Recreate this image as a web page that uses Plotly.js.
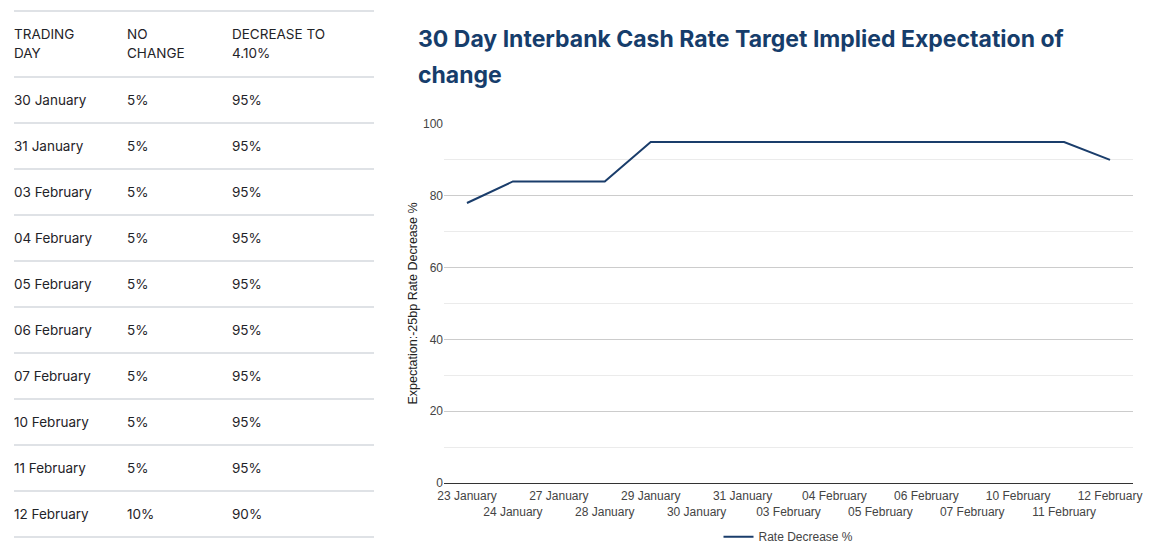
<!DOCTYPE html>
<html>
<head>
<meta charset="utf-8">
<script src="https://cdn.plot.ly/plotly-3.0.1.min.js"></script>
<style>
  html, body { margin: 0; padding: 0; background: #fff; width: 1157px; height: 548px; overflow: hidden; }
  #tbl { position: absolute; left: 14px; top: 10px; width: 360px; border-collapse: collapse;
         font-family: Inter, "Open Sans", sans-serif; font-size: 13.5px; color: #1f2328; }
  #tbl th, #tbl td { text-align: left; font-weight: 400; padding: 0; vertical-align: middle; border-top: 2px solid #dfe2e6; }
  #tbl tr:last-child td { border-bottom: 2px solid #dfe2e6; }
  #tbl th { height: 64px; line-height: 19px; }
  #tbl td { height: 44px; }
  #title { position: absolute; left: 418px; top: 21px; width: 700px; font-family: Inter, "Open Sans", sans-serif;
           font-weight: 700; font-size: 23px; line-height: 36px; color: #163d6b; z-index: 10; }
  #chart { position: absolute; left: 390px; top: 0; width: 767px; height: 548px; z-index: 1; }
</style>
</head>
<body>
<table id="tbl">
  <thead><tr><th style="width:113px">TRADING<br>DAY</th><th style="width:105px">NO<br>CHANGE</th><th>DECREASE TO<br>4.10%</th></tr></thead>
  <tbody id="tbody"></tbody>
</table>
<div id="chart"></div>
<div id="title">30 Day Interbank Cash Rate Target Implied Expectation of<br>change</div>
<script>
// Table data
const tableDays = ["30 January", "31 January", "03 February", "04 February", "05 February", "06 February", "07 February", "10 February", "11 February", "12 February"];
const tableNoChange = ["5%", "5%", "5%", "5%", "5%", "5%", "5%", "5%", "5%", "10%"];
const tableDecrease = ["95%", "95%", "95%", "95%", "95%", "95%", "95%", "95%", "95%", "90%"];

// Chart data
const chartDates = ["23 January", "24 January", "27 January", "28 January", "29 January", "30 January", "31 January",
  "03 February", "04 February", "05 February", "06 February", "07 February", "10 February", "11 February", "12 February"];
const rateDecrease = [78, 84, 84, 84, 95, 95, 95, 95, 95, 95, 95, 95, 95, 95, 90];
const yTicks = [0, 20, 40, 60, 80, 100];

const tb = document.getElementById('tbody');
tableDays.forEach((d, i) => {
  const tr = document.createElement('tr');
  [d, tableNoChange[i], tableDecrease[i]].forEach(v => {
    const td = document.createElement('td'); td.textContent = v; tr.appendChild(td);
  });
  tb.appendChild(tr);
});

const idx = chartDates.map((_, i) => i);
const tickText = chartDates.map((d, i) => (i % 2 === 1 ? '<br>' + d : d));

const trace = {
  x: idx, y: rateDecrease, type: 'scatter', mode: 'lines', name: 'Rate Decrease %',
  line: { color: '#1a3d6b', width: 2 }
};

const layout = {
  width: 767, height: 548,
  margin: { l: 54, r: 24, t: 124, b: 65, autoexpand: false },
  paper_bgcolor: 'rgba(0,0,0,0)', plot_bgcolor: '#fff',
  font: { family: 'Arial, Liberation Sans, sans-serif', size: 12, color: '#444' },
  showlegend: true,
  legend: { orientation: 'h', x: 0.5, xanchor: 'center', yref: 'container', y: 0.047, yanchor: 'top', font: { size: 12, color: '#444' } },
  xaxis: {
    range: [-0.5, 14.5], tickmode: 'array', tickvals: idx, ticktext: tickText, tickangle: 0,
    showgrid: false, showline: true, linecolor: '#333', linewidth: 1, ticks: 'outside', ticklen: 2, tickcolor: 'rgba(0,0,0,0)', zeroline: false,
    fixedrange: true, tickfont: { size: 12, color: '#444' }, automargin: false
  },
  yaxis: {
    range: [0, 100], tickmode: 'array', tickvals: yTicks, showgrid: true, gridcolor: '#cccccc',
    minor: { dtick: 10, showgrid: true, gridcolor: '#ebebeb' },
    zeroline: true, zerolinecolor: '#333', zerolinewidth: 1, showline: false, ticks: '',
    tickfont: { size: 12, color: '#444' },
    title: { text: 'Expectation:-25bp Rate Decrease %', font: { size: 12.5, color: '#222' }, standoff: 2 },
    automargin: false
  }
};

Plotly.newPlot('chart', [trace], layout, { displayModeBar: false, staticPlot: true });
</script>
</body>
</html>
